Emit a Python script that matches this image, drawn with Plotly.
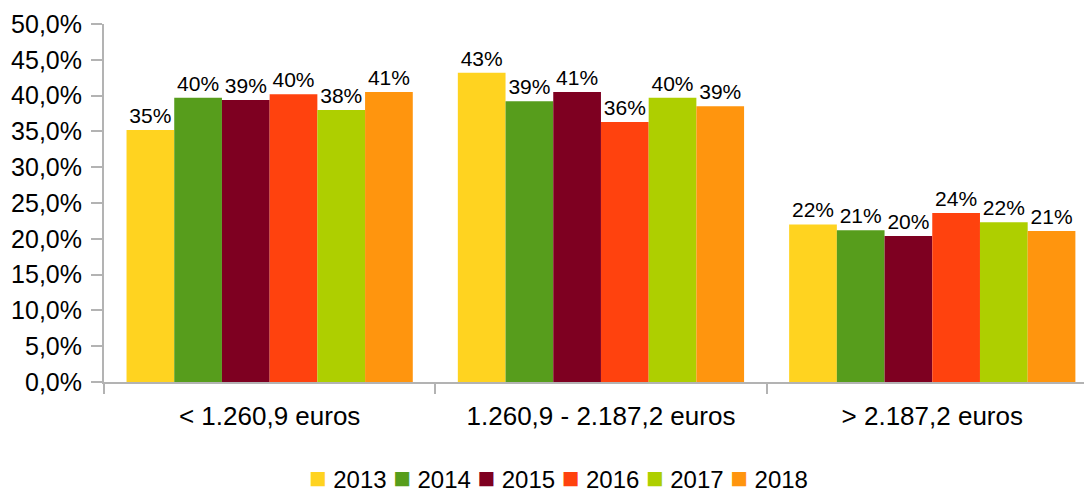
import math
import plotly.graph_objects as go

categories = ["< 1.260,9 euros", "1.260,9 - 2.187,2 euros", "> 2.187,2 euros"]
years = ["2013", "2014", "2015", "2016", "2017", "2018"]
values = {
    "2013": [35.2, 43.2, 22.0],
    "2014": [39.7, 39.2, 21.2],
    "2015": [39.4, 40.5, 20.4],
    "2016": [40.2, 36.3, 23.6],
    "2017": [38.0, 39.7, 22.3],
    "2018": [40.5, 38.5, 21.1],
}
colors = ["#FFD320", "#579D1C", "#7E0021", "#FF420E", "#AECF00", "#FF950E"]
y_ticks = [0, 5, 10, 15, 20, 25, 30, 35, 40, 45, 50]
y_ticktext = ["0,0%", "5,0%", "10,0%", "15,0%", "20,0%", "25,0%", "30,0%", "35,0%", "40,0%", "45,0%", "50,0%"]

FONT = "Liberation Sans, Arial, sans-serif"

fig = go.Figure()
for yr, col in zip(years, colors):
    vals = values[yr]
    fig.add_trace(go.Bar(
        name=yr, x=categories, y=vals, marker=dict(color=col, line=dict(width=0)),
        text=[f"{int(math.floor(v + 0.5))}%" for v in vals], textposition="outside",
        textfont=dict(family=FONT, size=21, color="#000000"),
        constraintext="none", cliponaxis=False, showlegend=False,
    ))

# legend drawn as a single text line built from the series names and colours
legend_text = " ".join(
    f"<span style='color:{c};font-size:29px'>\u25A0</span> {y}" for y, c in zip(years, colors)
)
fig.add_annotation(
    text=legend_text, xref="paper", yref="paper", x=0.464, y=-0.268,
    xanchor="center", yanchor="middle", showarrow=False,
    font=dict(family=FONT, size=24, color="#000000"),
)

fig.update_layout(
    barmode="group", bargap=0.136, bargroupgap=0,
    width=1084, height=490,
    margin=dict(l=104, r=0, t=24, b=108, autoexpand=False),
    paper_bgcolor="white", plot_bgcolor="white",
    font=dict(family=FONT, size=24, color="#000000"),
    showlegend=False,
)
fig.update_xaxes(
    type="category", range=[-0.5, 2.458], automargin=False,
    showline=True, linecolor="#b3b3b3", linewidth=2,
    ticks="outside", tickson="boundaries", ticklen=10, tickcolor="#b3b3b3", tickwidth=2,
    tickfont=dict(family=FONT, size=26, color="#000000"), ticklabelstandoff=10,
    showgrid=False, zeroline=False,
)
fig.update_yaxes(
    range=[0, 50], tickvals=y_ticks, ticktext=y_ticktext, automargin=False,
    showline=True, linecolor="#b3b3b3", linewidth=2,
    ticks="outside", ticklen=11, tickcolor="#b3b3b3", tickwidth=2,
    tickfont=dict(family=FONT, size=25, color="#000000"), ticklabelstandoff=4,
    showgrid=False, zeroline=False,
)

fig.write_html("out.html", config={"displayModeBar": False},
               post_script="document.body.style.margin='0';")
